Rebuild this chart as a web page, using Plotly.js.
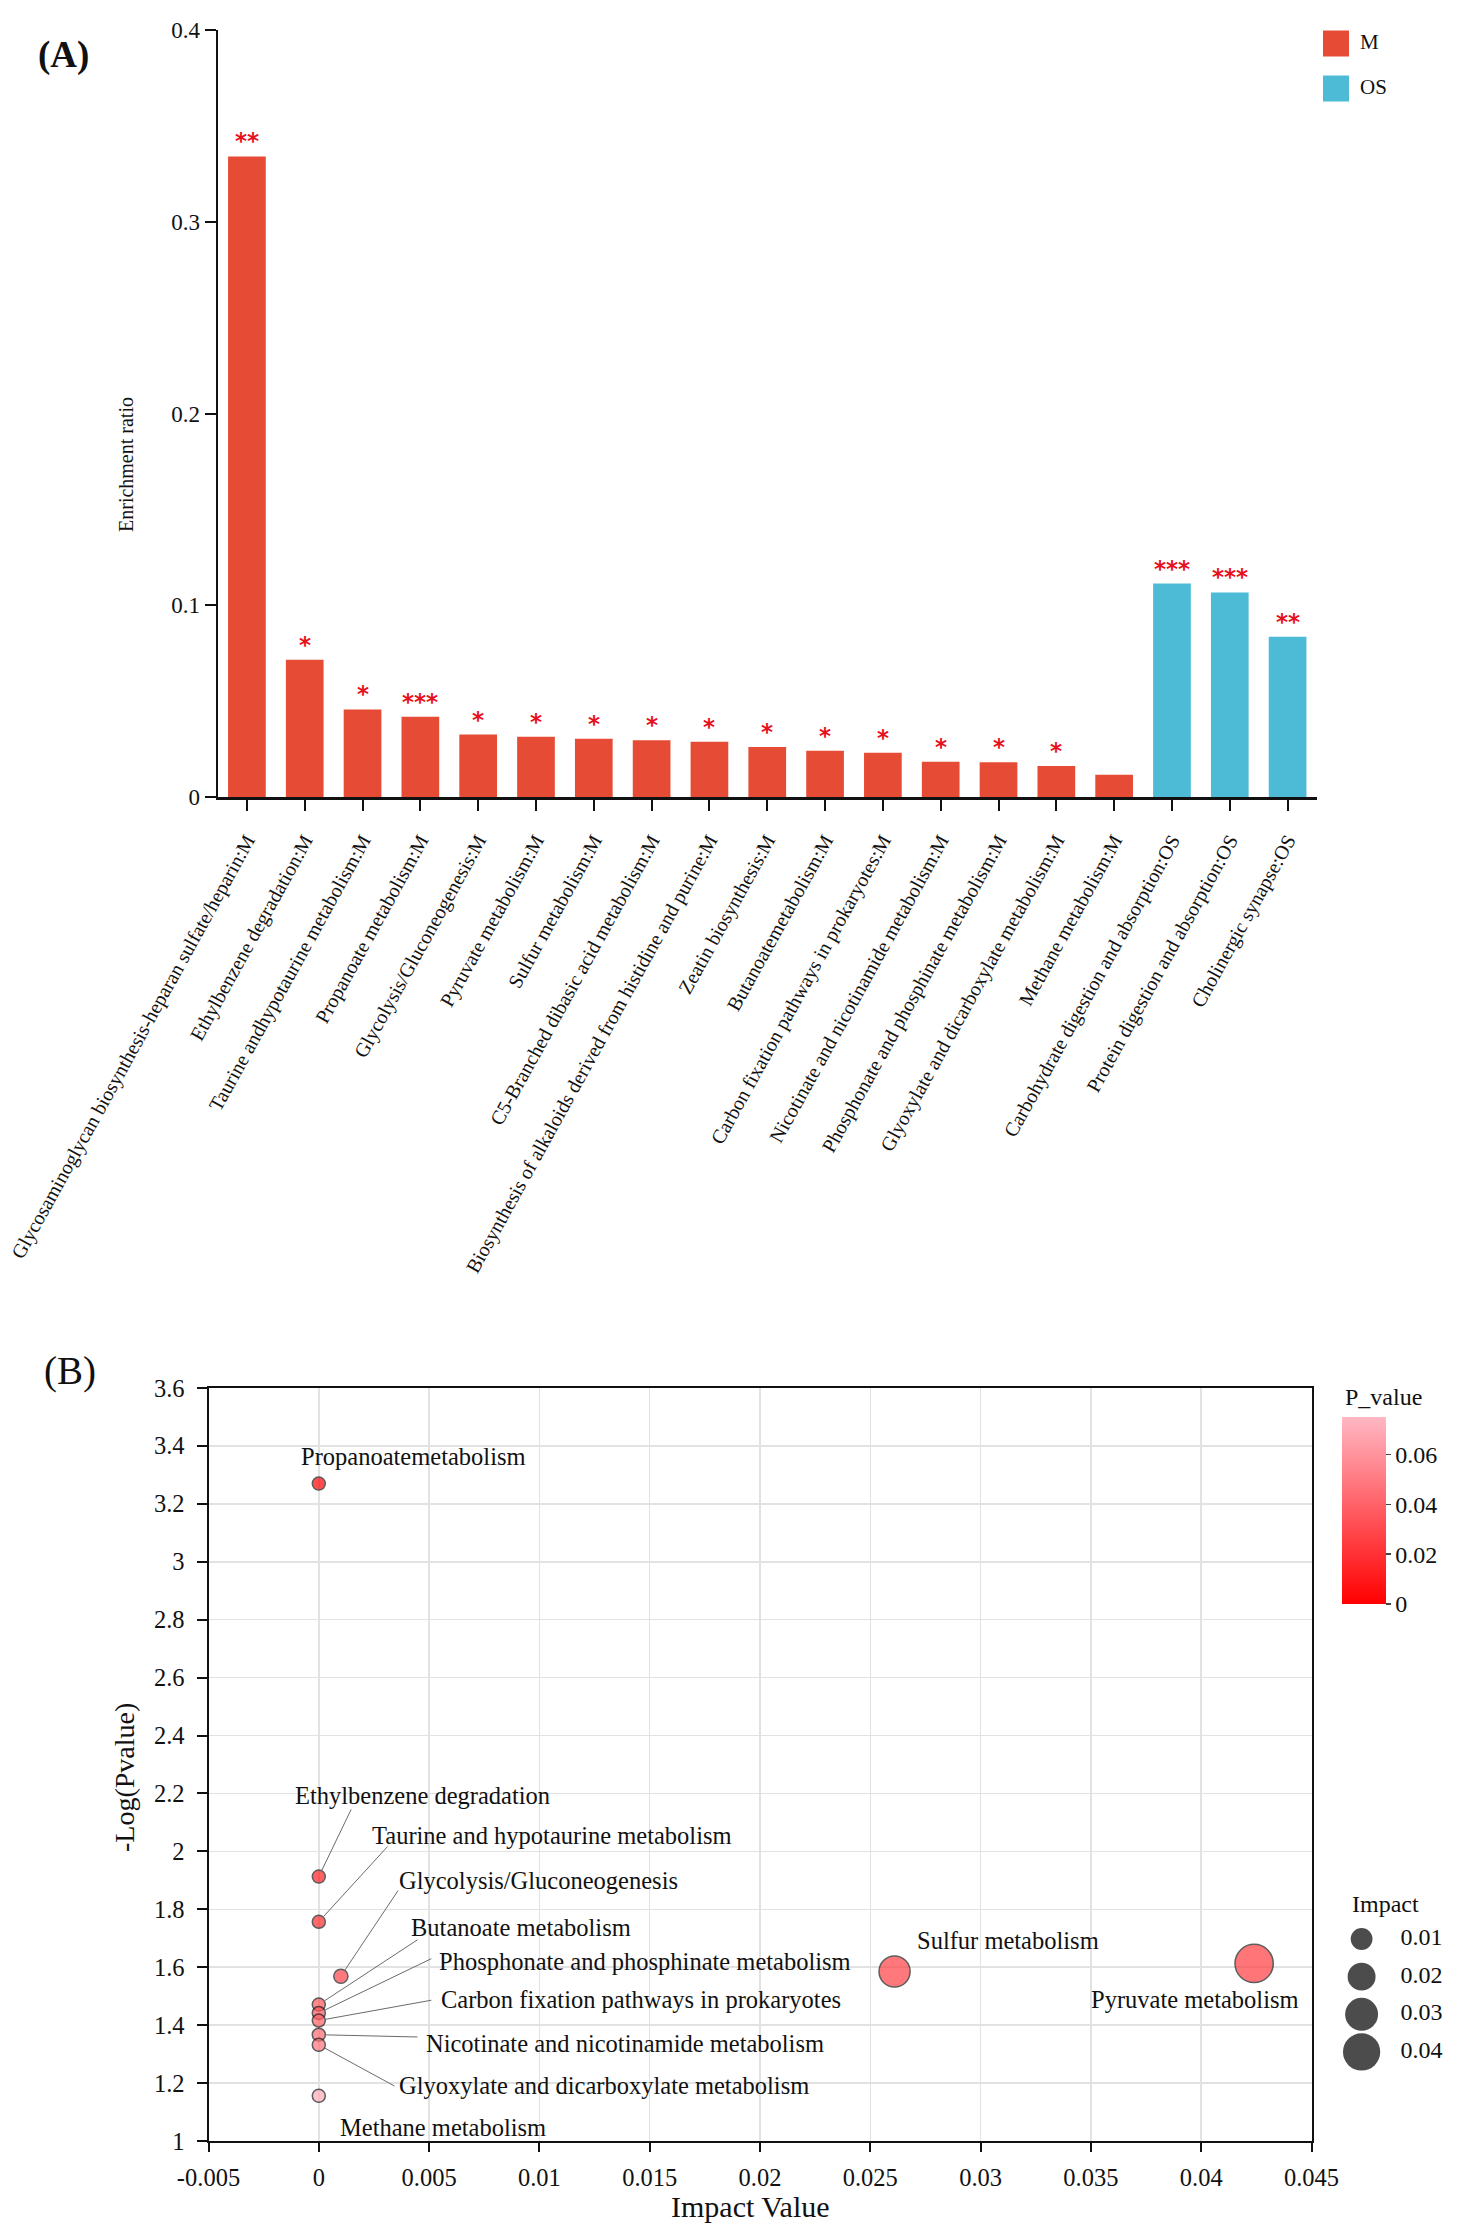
<!DOCTYPE html>
<html><head><meta charset="utf-8">
<script src="https://cdn.plot.ly/plotly-3.0.1.min.js"></script>
<style>html,body{margin:0;padding:0;background:#fff}#chart{width:1470px;height:2232px}</style>
</head><body><div id="chart"></div>
<script>
// ---------- Panel A data ----------
const pathways = [
  'Glycosaminoglycan biosynthesis-heparan sulfate/heparin:M',
  'Ethylbenzene degradation:M',
  'Taurine andhypotaurine metabolism:M',
  'Propanoate metabolism:M',
  'Glycolysis/Gluconeogenesis:M',
  'Pyruvate metabolism:M',
  'Sulfur metabolism:M',
  'C5-Branched dibasic acid metabolism:M',
  'Biosynthesis of alkaloids derived from histidine and purine:M',
  'Zeatin biosynthesis:M',
  'Butanoatemetabolism:M',
  'Carbon fixation pathways in prokaryotes:M',
  'Nicotinate and nicotinamide metabolism:M',
  'Phosphonate and phosphinate metabolism:M',
  'Glyoxylate and dicarboxylate metabolism:M',
  'Methane metabolism:M',
  'Carbohydrate digestion and absorption:OS',
  'Protein digestion and absorption:OS',
  'Cholinergic synapse:OS'
];
const enrichment = [0.334, 0.0717, 0.0458, 0.0420, 0.0327, 0.0316, 0.0305, 0.0297, 0.0289,
                    0.0262, 0.0243, 0.0232, 0.0185, 0.0183, 0.0163, 0.0117, 0.1114, 0.1068, 0.0837];
const groups = ['M','M','M','M','M','M','M','M','M','M','M','M','M','M','M','M','OS','OS','OS'];
const stars = ['**','*','*','***','*','*','*','*','*','*','*','*','*','*','*','','***','***','**'];
const groupNames = ['M','OS'];
const groupColors = {M:'#E64B35', OS:'#4DBBD5'};
const enrichTickVals = [0, 0.1, 0.2, 0.3, 0.4];
const enrichTickText = ['0','0.1','0.2','0.3','0.4'];

// ---------- Panel B data ----------
const bubbleNames = [
  'Propanoatemetabolism','Ethylbenzene degradation','Taurine and hypotaurine metabolism',
  'Glycolysis/Gluconeogenesis','Butanoate metabolism','Phosphonate and phosphinate metabolism',
  'Carbon fixation pathways in prokaryotes','Nicotinate and nicotinamide metabolism',
  'Glyoxylate and dicarboxylate metabolism','Methane metabolism','Sulfur metabolism','Pyruvate metabolism'
];
const impactValues = [0, 0, 0, 0.001, 0, 0, 0, 0, 0, 0, 0.0261, 0.0424];
const negLogP = [3.27, 1.913, 1.757, 1.569, 1.471, 1.442, 1.416, 1.367, 1.332, 1.156, 1.585, 1.613];
const impactLegend = [0.01, 0.02, 0.03, 0.04];
const impactLegendText = ['0.01','0.02','0.03','0.04'];
const pTickVals = [0, 0.02, 0.04, 0.06];
const pTickText = ['0','0.02','0.04','0.06'];
const impactTickVals = [-0.005, 0, 0.005, 0.01, 0.015, 0.02, 0.025, 0.03, 0.035, 0.04, 0.045];
const impactTickText = ['-0.005','0','0.005','0.01','0.015','0.02','0.025','0.03','0.035','0.04','0.045'];
const logTickVals = [1, 1.2, 1.4, 1.6, 1.8, 2, 2.2, 2.4, 2.6, 2.8, 3, 3.2, 3.4, 3.6];
const logTickText = ['1','1.2','1.4','1.6','1.8','2','2.2','2.4','2.6','2.8','3','3.2','3.4','3.6'];

// ---------- label placement for panel B (layout, data coords) ----------
// [textX, textY, lineStartX, lineStartY] ; null line => no leader
const labelPlace = [
  [-0.00090, 3.364, null, null],
  [-0.00117, 2.192, 0.00150, 2.150],
  [0.00232, 2.054, 0.00318, 2.022],
  [0.00354, 1.898, 0.00364, 1.870],
  [0.00409, 1.736, 0.00454, 1.698],
  [0.00536, 1.619, 0.00517, 1.632],
  [0.00545, 1.487, 0.00517, 1.487],
  [0.00477, 1.335, 0.00454, 1.359],
  [0.00354, 1.190, 0.00350, 1.187],
  [0.00087, 1.048, null, null],
  [0.02702, 1.691, null, null],
  [0.03492, 1.487, null, null]
];

const W = 1470, H = 2232;
const px = v => v / W;
const py = v => 1 - v / H;
const serif = 'Liberation Serif, Times New Roman, serif';
const ink = '#111';

const sizeFromImpact = v => Math.sqrt(13 * 13 + 30500 * v);
const pValues = negLogP.map(v => Math.pow(10, -v));

const data = [
  {
    type: 'bar', x: pathways, y: enrichment, xaxis: 'x', yaxis: 'y',
    marker: {color: groups.map(g => groupColors[g]), line: {width: 0}},
    hoverinfo: 'x+y', showlegend: false
  },
  {
    type: 'scatter', mode: 'markers', x: impactValues, y: negLogP, text: bubbleNames,
    xaxis: 'x2', yaxis: 'y2', cliponaxis: false, showlegend: false,
    marker: {
      size: impactValues.map(sizeFromImpact), sizemode: 'diameter',
      color: pValues, cmin: 0, cmax: 0.075,
      colorscale: [[0, '#FF0000'], [1, '#FFB8C4']],
      line: {color: '#1a1a1a', width: 1.5},
      showscale: true,
      colorbar: {
        x: px(1342), xanchor: 'left', xpad: 0,
        y: py(1604), yanchor: 'bottom', ypad: 0,
        len: 187, lenmode: 'pixels', thickness: 44, thicknessmode: 'pixels',
        outlinewidth: 0, ticks: 'outside', ticklen: 5, tickwidth: 1.5, tickcolor: '#444',
        tickvals: pTickVals, ticktext: pTickText,
        tickfont: {family: serif, size: 24, color: ink}
      }
    }
  },
  // legend A
  {
    type: 'scatter', mode: 'markers', x: groupNames.map(() => 0), y: groupNames.map((g, i) => i),
    xaxis: 'x3', yaxis: 'y3', hoverinfo: 'skip', showlegend: false, cliponaxis: false,
    marker: {symbol: 'square', size: 26, color: groupNames.map(g => groupColors[g]), line: {width: 0}}
  },
  {
    type: 'scatter', mode: 'text', x: groupNames.map(() => 24), y: groupNames.map((g, i) => i),
    text: groupNames, textposition: 'middle right', xaxis: 'x3', yaxis: 'y3',
    hoverinfo: 'skip', showlegend: false, cliponaxis: false,
    textfont: {family: serif, size: 21, color: ink}
  },
  // impact size legend
  {
    type: 'scatter', mode: 'markers', x: impactLegend.map(() => 0), y: impactLegend,
    xaxis: 'x4', yaxis: 'y4', hoverinfo: 'skip', showlegend: false, cliponaxis: false,
    marker: {size: impactLegend.map(sizeFromImpact), color: '#000', line: {width: 0}}
  },
  {
    type: 'scatter', mode: 'text', x: impactLegend.map(() => 39), y: impactLegend,
    text: impactLegendText, textposition: 'middle right', xaxis: 'x4', yaxis: 'y4',
    hoverinfo: 'skip', showlegend: false, cliponaxis: false,
    textfont: {family: serif, size: 24, color: ink}
  }
];

const annotations = [];
// significance stars
pathways.forEach((p, i) => {
  if (!stars[i]) return;
  annotations.push({
    xref: 'x', yref: 'y', x: p, y: enrichment[i], text: '<b>' + stars[i] + '</b>', showarrow: false,
    yanchor: 'bottom', yshift: 0,
    font: {family: 'DejaVu Sans, sans-serif', size: 23, color: '#E8111B'}
  });
});
// bubble labels and leader lines
bubbleNames.forEach((name, i) => {
  const [tx, ty, lx, ly] = labelPlace[i];
  annotations.push({
    xref: 'x2', yref: 'y2', x: tx, y: ty, text: name, showarrow: false,
    xanchor: 'left', yanchor: 'middle', font: {family: serif, size: 24.5, color: ink}
  });
  if (lx !== null) {
    annotations.push({
      xref: 'x2', yref: 'y2', x: impactValues[i], y: negLogP[i], text: '',
      showarrow: true, arrowhead: 0, arrowwidth: 1, arrowcolor: '#6b6b6b',
      axref: 'x2', ayref: 'y2', ax: lx, ay: ly, standoff: 7
    });
  }
});
// titles / panel letters
annotations.push(
  {xref: 'paper', yref: 'paper', x: px(63), y: py(55), text: '<b>(A)</b>', showarrow: false,
   xanchor: 'center', yanchor: 'middle', font: {family: serif, size: 37, color: ink}},
  {xref: 'paper', yref: 'paper', x: px(70), y: py(1371), text: '(B)', showarrow: false,
   xanchor: 'center', yanchor: 'middle', font: {family: serif, size: 39, color: ink}},
  {xref: 'paper', yref: 'paper', x: px(126), y: py(465), text: 'Enrichment ratio', textangle: -90,
   showarrow: false, xanchor: 'center', yanchor: 'middle', font: {family: serif, size: 20, color: ink}},
  {xref: 'paper', yref: 'paper', x: px(124), y: py(1777), text: '-Log(Pvalue)', textangle: -90,
   showarrow: false, xanchor: 'center', yanchor: 'middle', font: {family: serif, size: 28, color: ink}},
  {xref: 'paper', yref: 'paper', x: px(750), y: py(2206), text: 'Impact Value',
   showarrow: false, xanchor: 'center', yanchor: 'middle', font: {family: serif, size: 30, color: ink}},
  {xref: 'paper', yref: 'paper', x: px(1343), y: py(1397), text: 'P_value',
   showarrow: false, xanchor: 'left', yanchor: 'middle', font: {family: serif, size: 24, color: ink}},
  {xref: 'paper', yref: 'paper', x: px(1350), y: py(1904), text: 'Impact',
   showarrow: false, xanchor: 'left', yanchor: 'middle', font: {family: serif, size: 24, color: ink}}
);

const hidden = {showgrid: false, zeroline: false, showticklabels: false, showline: false, ticks: '', fixedrange: true};

const layout = {
  width: W, height: H, margin: {l: 0, r: 0, t: 0, b: 0},
  paper_bgcolor: '#ffffff', plot_bgcolor: 'rgba(0,0,0,0)', showlegend: false,
  bargap: 0.348, font: {family: serif, color: ink},
  xaxis: {
    domain: [px(218), px(1316.5)], anchor: 'y', type: 'category', range: [-0.5, 18.5],
    showline: true, linewidth: 2.5, linecolor: ink, ticks: 'outside', ticklen: 11, tickwidth: 2,
    tickcolor: ink, tickangle: -61, tickfont: {family: serif, size: 20, color: ink},
    showgrid: false, zeroline: false, automargin: false, ticklabelstandoff: 10, fixedrange: true
  },
  yaxis: {
    domain: [py(797.3), py(29.8)], anchor: 'x', range: [0, 0.4],
    tickvals: enrichTickVals, ticktext: enrichTickText,
    showline: true, linewidth: 2.5, linecolor: ink, ticks: 'outside', ticklen: 11, tickwidth: 2,
    tickcolor: ink, tickfont: {family: serif, size: 23, color: ink},
    showgrid: false, zeroline: false, automargin: false, fixedrange: true
  },
  xaxis2: {
    domain: [px(208.5), px(1311.5)], anchor: 'y2', range: [-0.005, 0.045],
    tickvals: impactTickVals, ticktext: impactTickText,
    showline: true, mirror: true, linewidth: 2, linecolor: ink, ticks: 'outside', ticklen: 9, tickwidth: 2,
    tickcolor: ink, tickfont: {family: serif, size: 24.5, color: ink},
    showgrid: true, gridcolor: '#E2E2E2', gridwidth: 1.5, zeroline: false, automargin: false, fixedrange: true,
    ticklabelstandoff: 5
  },
  yaxis2: {
    domain: [py(2141), py(1388)], anchor: 'x2', range: [1, 3.6],
    tickvals: logTickVals, ticktext: logTickText,
    showline: true, mirror: true, linewidth: 2, linecolor: ink, ticks: 'outside', ticklen: 10, tickwidth: 2,
    tickcolor: ink, tickfont: {family: serif, size: 24.5, color: ink},
    showgrid: true, gridcolor: '#E2E2E2', gridwidth: 1.5, zeroline: false, automargin: false, fixedrange: true,
    ticklabelstandoff: 7
  },
  xaxis3: Object.assign({domain: [px(1323), px(1433)], anchor: 'y3', range: [-13, 97]}, hidden),
  yaxis3: Object.assign({domain: [py(111), py(21)], anchor: 'x3', range: [1.5, -0.5]}, hidden),
  xaxis4: Object.assign({domain: [px(1340), px(1460)], anchor: 'y4', range: [-21.6, 98.4]}, hidden),
  yaxis4: Object.assign({domain: [py(2070), py(1920)], anchor: 'x4', range: [0.04478, 0.00496]}, hidden),
  annotations: annotations
};

Plotly.newPlot('chart', data, layout, {displayModeBar: false, staticPlot: true});
</script>
</body></html>
